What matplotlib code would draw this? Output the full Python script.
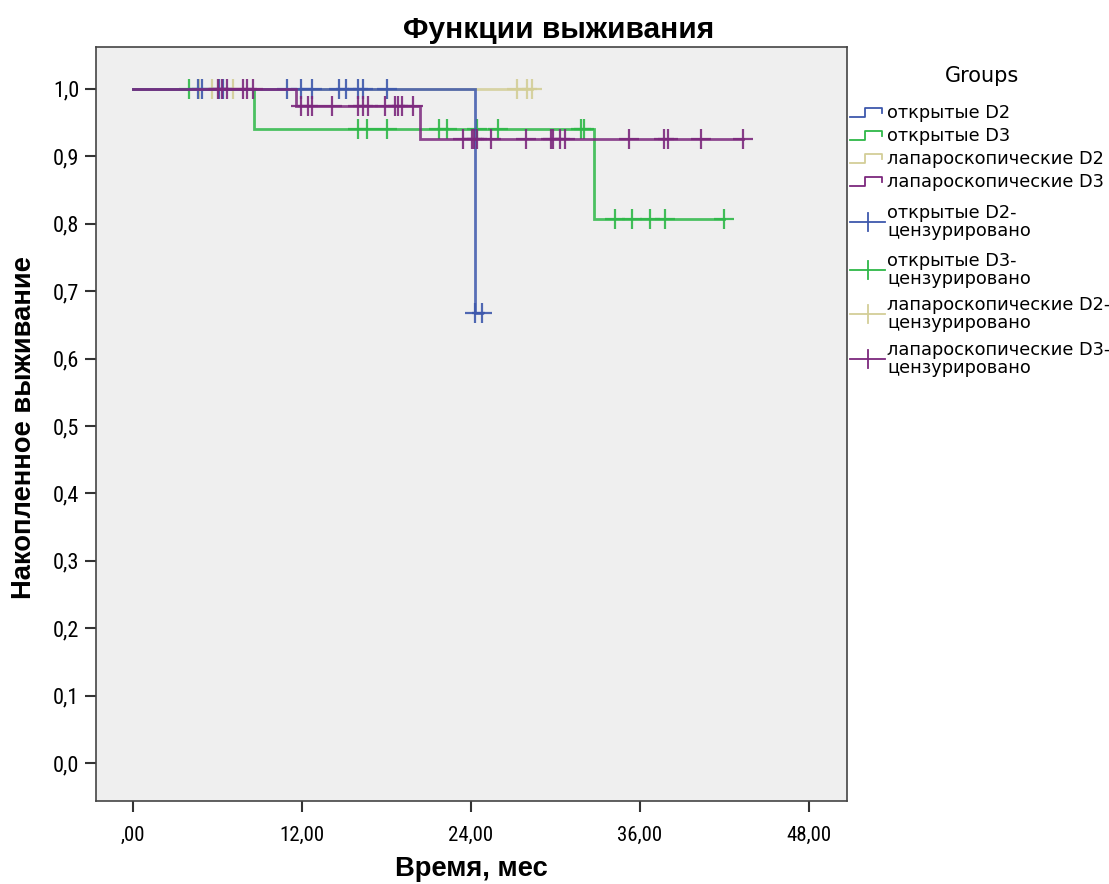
import numpy as np
import matplotlib.pyplot as plt
from matplotlib import font_manager as fm


def find_font(names, bold=False):
    # first installed font file whose family matches one of names
    for n in names:
        for f in fm.fontManager.ttflist:
            if f.name == n and f.style == "normal" and (f.weight >= 600) == bold:
                return fm.FontProperties(fname=f.fname)
    return None


fp_bold = find_font(["Liberation Sans"], bold=True) or fm.FontProperties(family="DejaVu Sans", weight="bold")
fp_leg = fm.FontProperties(family="DejaVu Sans")
fp_tick = find_font(["Liberation Sans Narrow", "DejaVu Sans Condensed", "Roboto Condensed"]) \
    or find_font(["Liberation Sans"])
narrow_ok = find_font(["Liberation Sans Narrow", "DejaVu Sans Condensed", "Roboto Condensed"]) is not None

# ---- data ----
groups = ["открытые D2", "открытые D3", "лапароскопические D2", "лапароскопические D3"]
colors = ["#3E58AC", "#2EB848", "#D3CE97", "#7C287D"]

# step change times and survival after each change
open_d2_t = [0, 24.3]
open_d2_s = [1.0, 0.667]
open_d2_end = 24.8
open_d2_cens = [4.6, 4.9, 6.1, 6.4, 10.9, 11.9, 12.7, 14.6, 15.1, 16.0, 16.3, 18.0,
                24.3, 24.8]

open_d3_t = [0, 8.6, 32.7]
open_d3_s = [1.0, 0.941, 0.807]
open_d3_end = 42.0
open_d3_cens = [4.0, 16.0, 16.6, 18.0, 21.7, 22.3, 24.4, 25.9, 31.8, 32.0,
                34.2, 35.4, 36.7, 37.8, 42.0]

lap_d2_t = [0]
lap_d2_s = [1.0]
lap_d2_end = 28.3
lap_d2_cens = [4.7, 5.6, 6.0, 7.1, 27.3, 28.0, 28.3]

lap_d3_t = [0, 11.6, 20.4]
lap_d3_s = [1.0, 0.975, 0.926]
lap_d3_end = 43.3
lap_d3_cens = [6.0, 6.3, 6.7, 7.8, 8.1, 8.5,
               11.9, 12.4, 12.7, 14.1, 16.0, 16.3, 16.7, 17.9, 18.6, 18.8, 19.1, 19.9,
               23.4, 24.1, 24.2, 24.4, 25.4, 27.9, 29.7, 29.8, 30.3, 30.7,
               35.2, 37.7, 38.0, 40.3, 43.3]

series = [
    (lap_d2_t, lap_d2_s, lap_d2_end, lap_d2_cens, colors[2]),
    (open_d3_t, open_d3_s, open_d3_end, open_d3_cens, colors[1]),
    (open_d2_t, open_d2_s, open_d2_end, open_d2_cens, colors[0]),
    (lap_d3_t, lap_d3_s, lap_d3_end, lap_d3_cens, colors[3]),
]

xticks = [0, 12, 24, 36, 48]
xtick_labels = [",00", "12,00", "24,00", "36,00", "48,00"]
yticks = np.arange(0, 11) / 10
ytick_labels = [("%.1f" % v).replace(".", ",") for v in yticks]

W, H = 1109, 884
fig = plt.figure(figsize=(W / 100, H / 100), dpi=100)
ax = fig.add_axes([96 / W, 1 - 801 / H, (847 - 96) / W, (801 - 47) / H])
ax.set_facecolor("#EFEFEF")

for t, s, end, cens, c in series:
    xs = list(t) + [end]
    ys = list(s) + [s[-1]]
    ax.step(xs, ys, where="post", color=c, lw=2, alpha=0.85, solid_joinstyle="miter")
    cens = np.array(cens)
    idx = np.searchsorted(t, cens, side="right") - 1
    cy = np.array(s)[idx]
    ax.plot(cens, cy, ls="none", marker="+", ms=15, mew=1.6, color=c, alpha=0.9)

tick_size = 15 if narrow_ok else 12.5
ax.set_xlim(-2.63, 50.7)
ax.set_ylim(-0.056, 1.062)
ax.set_xticks(xticks)
ax.set_xticklabels(xtick_labels, fontproperties=fp_tick, fontsize=tick_size)
ax.set_yticks(yticks)
ax.set_yticklabels(ytick_labels, fontproperties=fp_tick, fontsize=tick_size + 1)
ax.tick_params(axis="both", length=8, width=1.5, color="#333333", pad=4)
ax.tick_params(axis="x", pad=10)
for sp in ax.spines.values():
    sp.set_color("#444444")
    sp.set_linewidth(1.2)

fig.text(0.504, 1 - 30 / H, "Функции выживания", ha="center", va="center",
         fontproperties=fp_bold, fontsize=21.5)
fig.text(471 / W, 1 - 869 / H, "Время, мес", ha="center", va="center",
         fontproperties=fp_bold, fontsize=19.7)
fig.text(24 / W, 1 - 428 / H, "Накопленное выживание", ha="center", va="center",
         rotation=90, fontproperties=fp_bold, fontsize=19.7)

# ---- legend drawn in pixel space ----
lg = fig.add_axes([848 / W, 0, (W - 848) / W, 1])
lg.set_xlim(848, W)
lg.set_ylim(H, 0)
lg.axis("off")
lg.text(982, 76, "Groups", ha="center", va="center", fontproperties=fp_leg, fontsize=15)

step_y = [113, 136, 159, 182]
for g, c, y in zip(groups, colors, step_y):
    lg.plot([850, 865, 865, 882, 882], [y + 4, y + 4, y - 5, y - 5, y], color=c, lw=1.3)
    lg.text(887, y, g, ha="left", va="center", fontproperties=fp_leg, fontsize=12.8)

cens_y = [222, 270, 314, 359]
for g, c, y in zip(groups, colors, cens_y):
    lg.plot([850, 885], [y, y], color=c, lw=1.3)
    lg.plot([868, 868], [y - 9, y + 9], color=c, lw=1.3)
    lg.text(887, y, g + "-\nцензурировано", ha="left", va="center",
            fontproperties=fp_leg, fontsize=12.8, linespacing=0.95)

fig.savefig("out.png", dpi=100)
